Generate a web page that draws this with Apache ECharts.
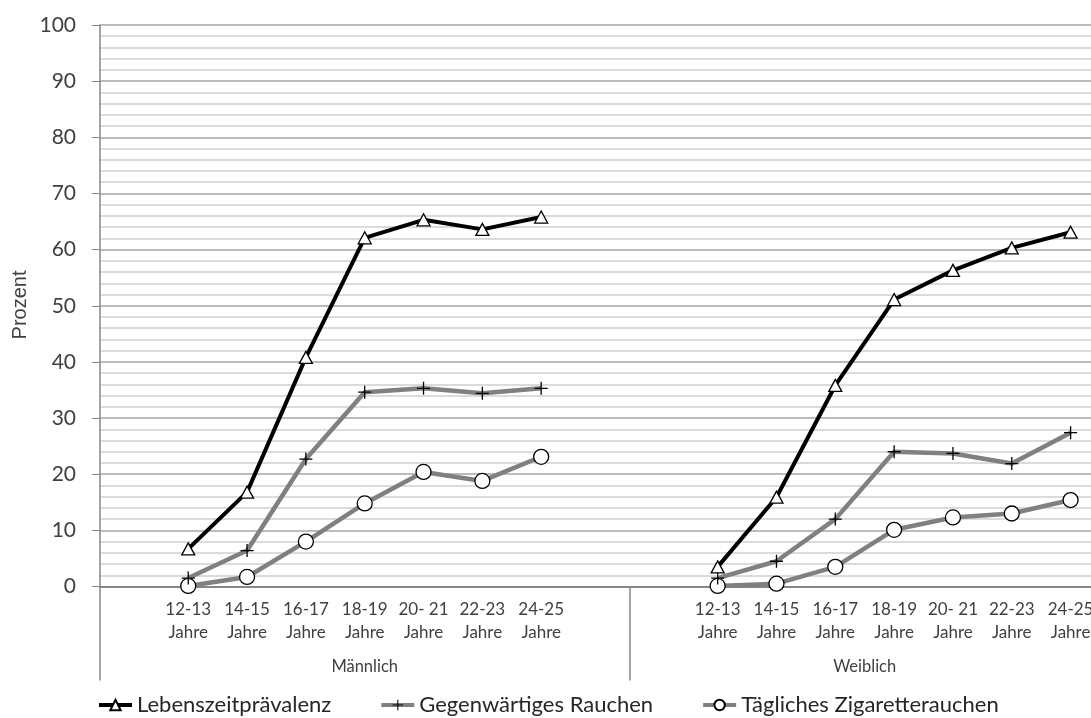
<!DOCTYPE html>
<html>
<head>
<meta charset="utf-8">
<script src="https://cdn.jsdelivr.net/npm/echarts@6/dist/echarts.min.js"></script>
<style>
html,body{margin:0;padding:0;background:#fff;}
#chart{width:1091px;height:718px;}
</style>
</head>
<body>
<div id="chart"></div>
<script>
// Categories: blank slot, 7 male age groups, blank, blank, 7 female age groups
const categories = ['', '12-13\nJahre', '14-15\nJahre', '16-17\nJahre', '18-19\nJahre', '20- 21\nJahre', '22-23\nJahre', '24-25\nJahre', '', '', '12-13\nJahre', '14-15\nJahre', '16-17\nJahre', '18-19\nJahre', '20- 21\nJahre', '22-23\nJahre', '24-25\nJahre'];
const groups = ['Männlich', 'Weiblich'];
const groupCenters = [4.5, 13];
const groupBounds = [0, 9, 17];
const seriesNames = ['Lebenszeitprävalenz', 'Gegenwärtiges Rauchen', 'Tägliches Zigaretterauchen'];
const lebenszeit = [null, 6.7, 16.8, 40.8, 62.1, 65.3, 63.6, 65.8, null, null, 3.5, 15.9, 35.8, 51.1, 56.3, 60.3, 63.1];
const gegenwaertig = [null, 1.5, 6.4, 22.7, 34.6, 35.3, 34.4, 35.3, null, null, 1.5, 4.5, 12.0, 24.0, 23.7, 21.9, 27.4];
const taeglich = [null, 0.1, 1.7, 8.0, 14.8, 20.4, 18.8, 23.1, null, null, 0.1, 0.5, 3.5, 10.1, 12.3, 13.0, 15.4];
const yTicks = [0, 10, 20, 30, 40, 50, 60, 70, 80, 90, 100];
const yName = 'Prozent';

const FONT = 'Lato, "Open Sans", sans-serif';
const plus = 'path://M5.4,0H6.6V5.4H12V6.6H6.6V12H5.4V6.6H0V5.4H5.4Z';

const chart = echarts.init(document.getElementById('chart'), null, {renderer: 'canvas'});
chart.setOption({
  animation: false,
  backgroundColor: '#ffffff',
  textStyle: {fontFamily: FONT},
  grid: {left: 100, top: 25, width: 1000, height: 561.5, containLabel: false, outerBoundsMode: 'none'},
  graphic: [{
    type: 'text', x: 20, y: 305, rotation: Math.PI / 2,
    style: {text: yName, font: 'normal 20px Lato, sans-serif', fontSize: 20, fill: '#404040', align: 'center', verticalAlign: 'middle'}
  }],
  legend: {
    bottom: -3, left: 92,
    itemWidth: 33, itemHeight: 13, itemGap: 48,
    lineStyle: {width: 4},
    textStyle: {fontSize: 22, color: '#262626', fontFamily: FONT},
    data: seriesNames
  },
  xAxis: [{
    type: 'category',
    data: categories,
    boundaryGap: true,
    axisLine: {lineStyle: {color: '#868686', width: 2}},
    axisTick: {show: false},
    axisLabel: {interval: 0, fontSize: 17, lineHeight: 23, color: '#404040', margin: 12, fontFamily: FONT},
    splitLine: {show: false}
  }, {
    type: 'value',
    min: groupBounds[0], max: groupBounds[2],
    position: 'bottom',
    axisLine: {show: false},
    axisTick: {show: true, inside: false, length: 94, customValues: groupBounds, lineStyle: {color: '#868686', width: 1.5}},
    axisLabel: {
      show: true, customValues: groupCenters, margin: 72, fontSize: 16.5, color: '#404040', fontFamily: FONT,
      formatter: function (v) { return groups[groupCenters.indexOf(v)]; }
    },
    splitLine: {show: false}
  }],
  yAxis: {
    type: 'value',
    min: 0, max: 100, interval: 10,
    axisLine: {show: true, lineStyle: {color: '#868686', width: 1.5}},
    axisTick: {show: true, length: 8, lineStyle: {color: '#868686'}},
    axisLabel: {fontSize: 21, color: '#404040', margin: 24, fontFamily: FONT,
      formatter: function (v) { return yTicks.indexOf(v) >= 0 ? String(v) : ''; }},
    splitLine: {show: true, lineStyle: {color: '#a6a6a6', width: 1.5}},
    minorTick: {show: false, splitNumber: 5},
    minorSplitLine: {show: true, lineStyle: {color: '#d0d0d0', width: 1.5}}
  },
  series: [{
    name: seriesNames[0], type: 'line', data: lebenszeit, connectNulls: false,
    symbol: 'triangle', symbolSize: [13, 12], showAllSymbol: true,
    lineStyle: {color: '#000000', width: 4},
    itemStyle: {color: '#ffffff', borderColor: '#000000', borderWidth: 1.3},
    z: 4
  }, {
    name: seriesNames[1], type: 'line', data: gegenwaertig, connectNulls: false,
    symbol: plus, symbolSize: 13, showAllSymbol: true,
    lineStyle: {color: '#808080', width: 4.5},
    itemStyle: {color: '#000000', borderWidth: 0},
    z: 3
  }, {
    name: seriesNames[2], type: 'line', data: taeglich, connectNulls: false,
    symbol: 'circle', symbolSize: 15, showAllSymbol: true,
    lineStyle: {color: '#808080', width: 4.5},
    itemStyle: {color: '#ffffff', borderColor: '#000000', borderWidth: 1.3},
    z: 2
  }]
});
</script>
</body>
</html>
